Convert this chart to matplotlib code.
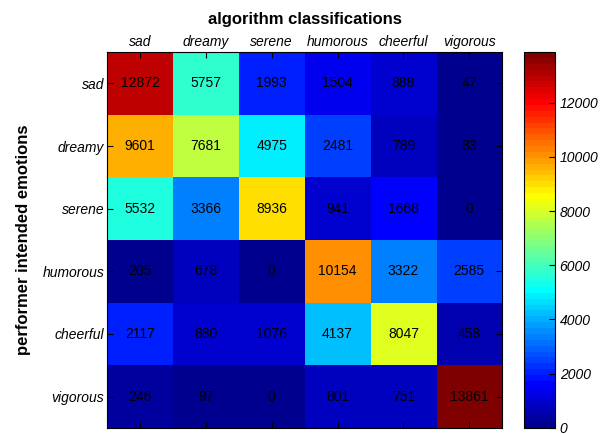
import numpy as np
import matplotlib
matplotlib.use('Agg')
import matplotlib.pyplot as plt
from matplotlib.colors import ListedColormap

plt.rcParams['font.family'] = ['Liberation Sans', 'DejaVu Sans']

emotions = ['sad', 'dreamy', 'serene', 'humorous', 'cheerful', 'vigorous']

# rows: performer intended, cols: algorithm classification
sad_row = [12872, 5757, 1993, 1504, 888, 47]
dreamy_row = [9601, 7681, 4975, 2481, 789, 83]
serene_row = [5532, 3366, 8936, 941, 1668, 0]
humorous_row = [205, 678, 0, 10154, 3322, 2585]
cheerful_row = [2117, 880, 1076, 4137, 8047, 458]
vigorous_row = [246, 97, 0, 801, 751, 13861]

conf = np.array([sad_row, dreamy_row, serene_row, humorous_row, cheerful_row, vigorous_row])


def matlab_jet(n=64):
    # same construction as MATLAB's jet(n)
    m = int(np.ceil(n / 4))
    u = np.concatenate([np.arange(1, m + 1) / m, np.ones(m - 1), np.arange(m, 0, -1) / m])
    g0 = int(np.ceil(m / 2)) - (1 if n % 4 == 1 else 0)
    idx = np.arange(1, len(u) + 1)
    rgb = np.zeros((n, 3))
    for ch, off in zip(range(3), [g0 + m, g0, g0 - m]):
        pos = off + idx
        ok = (pos >= 1) & (pos <= n)
        rgb[pos[ok] - 1, ch] = u[ok]
    return ListedColormap(rgb)


fig = plt.figure(figsize=(6.05, 4.34), dpi=100)
ax = fig.add_axes([0.177, 0.014, 0.653, 0.866])
cax = fig.add_axes([0.866, 0.014, 0.051, 0.866])

im = ax.imshow(conf, cmap=matlab_jet(64), vmin=0, vmax=conf.max(), aspect='auto', interpolation='nearest')

for i in range(conf.shape[0]):
    for j in range(conf.shape[1]):
        ax.text(j, i, str(conf[i, j]), ha='center', va='center', fontsize=10, color='black')

ax.set_xticks(range(len(emotions)))
ax.set_yticks(range(len(emotions)))
ax.set_xticklabels(emotions, fontstyle='italic', fontsize=10)
ax.set_yticklabels(emotions, fontstyle='italic', fontsize=10)
ax.xaxis.tick_top()
ax.tick_params(axis='both', direction='in', length=4, top=True, bottom=True, left=True, right=True, pad=2)
ax.set_title('algorithm classifications', fontsize=12, fontweight='bold', pad=20)
ax.set_ylabel('performer intended emotions', fontsize=12, fontweight='bold', labelpad=8)

cb = fig.colorbar(im, cax=cax)
cb.set_ticks([0, 2000, 4000, 6000, 8000, 10000, 12000])
cb.ax.tick_params(direction='in', length=4, labelsize=10)
for t in cb.ax.get_yticklabels():
    t.set_fontstyle('italic')
cb.outline.set_linewidth(0.8)

fig.savefig('out.png', dpi=100)
